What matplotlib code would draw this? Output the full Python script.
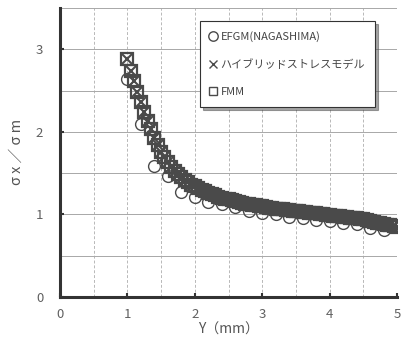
import matplotlib
matplotlib.use("Agg")
import matplotlib.pyplot as plt
import numpy as np

plt.rcParams['font.family'] = ['Noto Sans CJK JP', 'DejaVu Sans']

# EFGM (NAGASHIMA) - coarse points
efgm_x = [1.0, 1.2, 1.4, 1.6, 1.8, 2.0, 2.2, 2.4, 2.6, 2.8, 3.0, 3.2, 3.4,
          3.6, 3.8, 4.0, 4.2, 4.4, 4.6, 4.8]
efgm_y = [2.64, 2.10, 1.59, 1.46, 1.27, 1.21, 1.15, 1.13, 1.09, 1.04, 1.02,
          1.00, 0.97, 0.955, 0.93, 0.92, 0.90, 0.88, 0.84, 0.81]

# dense results (hybrid stress model and FMM practically coincide)
dense_x = [1.00, 1.05, 1.10, 1.15, 1.20, 1.25, 1.30, 1.35, 1.40, 1.45,
           1.50, 1.55, 1.60, 1.65, 1.70, 1.75, 1.80, 1.85, 1.90, 1.95,
           2.00, 2.05, 2.10, 2.15, 2.20, 2.25, 2.30, 2.35, 2.40, 2.45,
           2.50, 2.55, 2.60, 2.65, 2.70, 2.75, 2.80, 2.85, 2.90, 2.95,
           3.00, 3.05, 3.10, 3.15, 3.20, 3.25, 3.30, 3.35, 3.40, 3.45,
           3.50, 3.55, 3.60, 3.65, 3.70, 3.75, 3.80, 3.85, 3.90, 3.95,
           4.00, 4.05, 4.10, 4.15, 4.20, 4.25, 4.30, 4.35, 4.40, 4.45,
           4.50, 4.55, 4.60, 4.65, 4.70, 4.75, 4.80, 4.85, 4.90, 4.95, 5.00]
hybrid_y = [2.88, 2.74, 2.61, 2.48, 2.36, 2.24, 2.13, 2.03, 1.93, 1.84,
            1.76, 1.69, 1.63, 1.57, 1.53, 1.49, 1.45, 1.42, 1.39, 1.36,
            1.34, 1.32, 1.30, 1.28, 1.26, 1.245, 1.23, 1.215, 1.20, 1.19,
            1.18, 1.17, 1.16, 1.15, 1.14, 1.13, 1.12, 1.115, 1.11, 1.10,
            1.095, 1.09, 1.08, 1.075, 1.07, 1.065, 1.06, 1.055, 1.05, 1.045,
            1.04, 1.035, 1.03, 1.025, 1.02, 1.015, 1.01, 1.005, 1.00, 0.995,
            0.99, 0.985, 0.98, 0.975, 0.97, 0.965, 0.96, 0.955, 0.95, 0.945,
            0.94, 0.93, 0.92, 0.91, 0.90, 0.89, 0.88, 0.87, 0.865, 0.86, 0.85]
fmm_y = hybrid_y

xticks = [0, 1, 2, 3, 4, 5]
yticks = [0, 1, 2, 3]

fig = plt.figure(figsize=(4.02, 3.48), dpi=100)
ax = fig.add_axes([0.149, 0.147, 0.839, 0.83])

gray = '#4a4a4a'
ax.plot(efgm_x, efgm_y, ls='none', marker='o', ms=8.5, mfc='none', mec=gray,
        mew=1.0, label='EFGM(NAGASHIMA)', zorder=3)
ax.plot(dense_x, hybrid_y, ls='none', marker='x', ms=6.5, mec=gray, mew=1.5,
        label='ハイブリッドストレスモデル', zorder=4)
ax.plot(dense_x, fmm_y, ls='none', marker='s', ms=8, mfc='none', mec=gray,
        mew=1.6, label='FMM', zorder=4)

ax.set_xlim(0, 5)
ax.set_ylim(0, 3.5)
ax.set_xticks(xticks)
ax.set_yticks(yticks)
ax.set_xticks(np.arange(0, 5.01, 0.5), minor=True)
ax.set_yticks(np.arange(0, 3.51, 0.5), minor=True)
ax.grid(which='both', axis='y', color='#a8a8a8', lw=0.7)
ax.grid(which='both', axis='x', color='#b8b8b8', lw=0.7, ls=(0, (3, 2)))
ax.tick_params(which='minor', length=0)
ax.tick_params(which='major', direction='in', length=3, width=1.5,
               color='#333333', labelcolor='#606060', labelsize=9.5)
ax.tick_params(axis='y', pad=12)
ax.tick_params(axis='x', pad=8)

for s in ['top', 'right']:
    ax.spines[s].set_visible(False)
for s in ['left', 'bottom']:
    ax.spines[s].set_linewidth(2.2)
    ax.spines[s].set_color('#333333')

ax.set_xlabel('Y（mm）', color='#555555', fontsize=10, labelpad=1)
ax.set_ylabel('σ x ／ σ m', color='#555555', fontsize=10.5, labelpad=9)

leg = ax.legend(loc='upper left', bbox_to_anchor=(0.415, 0.955), frameon=True,
                fancybox=False, shadow=True, fontsize=8.0, handlelength=0.6,
                handletextpad=0.35, borderpad=0.9, labelspacing=1.55,
                markerscale=0.8, borderaxespad=0)
leg.get_frame().set_edgecolor('#333333')
leg.get_frame().set_linewidth(0.8)
for t in leg.get_texts():
    t.set_color('#444444')
for h in leg.legend_handles:
    h.set_markeredgewidth(1.0)

fig.savefig('out.png', dpi=100)
